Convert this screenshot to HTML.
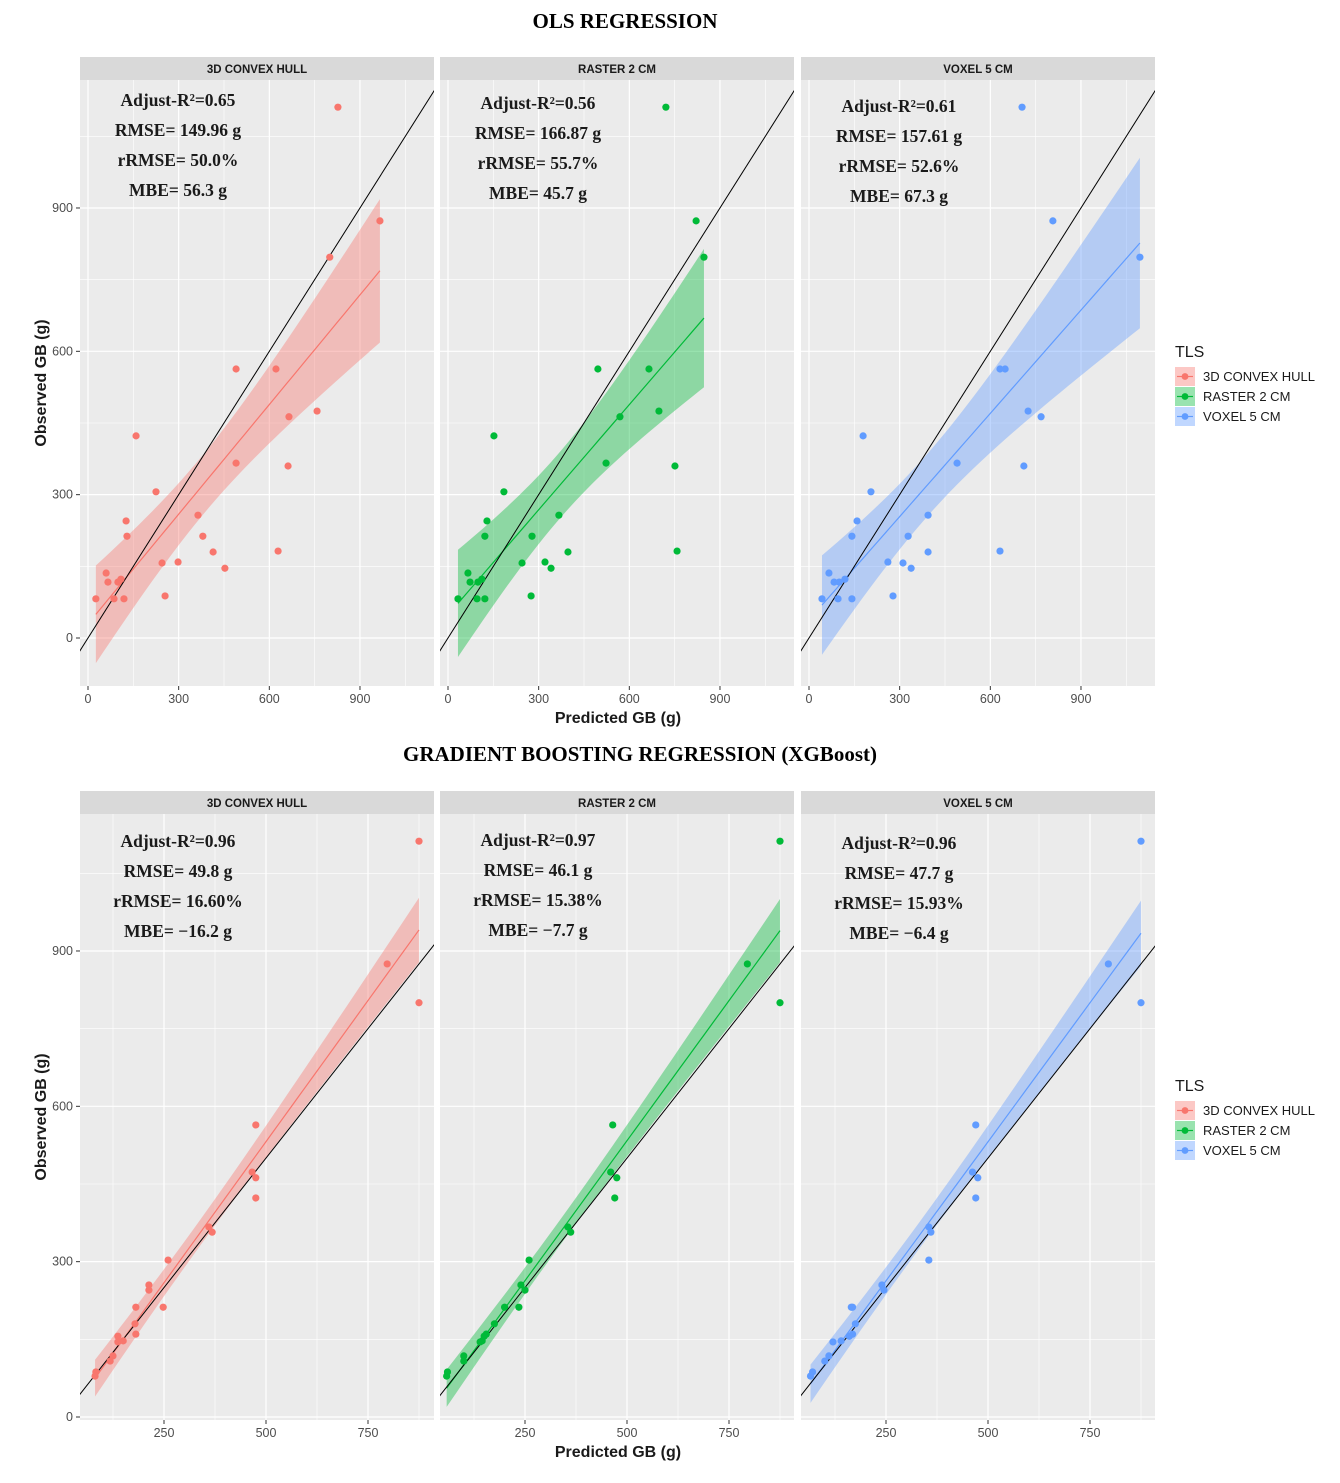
<!DOCTYPE html>
<html><head><meta charset="utf-8"><style>
body{margin:0;background:#fff;}
svg text{font-family:"Liberation Sans",sans-serif;}
.ser{font-family:"Liberation Serif",serif;font-weight:bold;}
</style></head><body>
<svg id="chart" width="1340" height="1478" xmlns="http://www.w3.org/2000/svg"></svg>
<script>
// ---- data ----
const obsTop = [1111,873,797,563,563,463,475,423,366,360,306,257,245,213,213,180,182,159,157,146,136,123,117,117,88,82,82,82];
const predTopHull = [827,966,800,490,622,665,758,159,490,662,225,364,126,380,129,414,629,298,245,453,60,109,99,66,255,26,86,119];
const predTopRaster = [721,821,847,496,665,569,698,152,523,751,185,367,129,278,122,397,758,321,245,341,66,112,99,73,275,33,96,122];
const predTopVoxel = [705,807,1095,632,649,768,725,179,490,711,205,394,159,328,142,394,632,261,311,338,66,119,83,100,278,43,96,142];
const obsBot = [1112,875,800,564,473,462,423,367,357,303,255,245,212,212,180,160,156,147,145,118,108,87,79];
const predBotHull = [875,797,875,475,466,475,475,360,368,260,213,213,181,248,179,181,137,150,137,125,118,83,81];
const predBotRaster = [875,795,875,465,460,475,470,355,362,260,240,250,200,235,175,155,150,145,140,100,100,60,58];
const predBotVoxel = [875,795,875,470,462,475,470,355,360,355,240,245,165,168,175,168,160,140,120,110,100,70,65];
const topTicksX=[0,300,600,900], topTicksY=[0,300,600,900];
const botTicksX=[250,500,750], botTicksY=[0,300,600,900];
const panelNames=["3D CONVEX HULL","RASTER 2 CM","VOXEL 5 CM"];
const colors=["#F8766D","#00BA38","#619CFF"];
const statsTop=[["Adjust-R²=0.65","RMSE= 149.96 g","rRMSE= 50.0%","MBE= 56.3 g"],["Adjust-R²=0.56","RMSE= 166.87 g","rRMSE= 55.7%","MBE= 45.7 g"],["Adjust-R²=0.61","RMSE= 157.61 g","rRMSE= 52.6%","MBE= 67.3 g"]];
const statsBot=[["Adjust-R²=0.96","RMSE= 49.8 g","rRMSE= 16.60%","MBE= −16.2 g"],["Adjust-R²=0.97","RMSE= 46.1 g","rRMSE= 15.38%","MBE= −7.7 g"],["Adjust-R²=0.96","RMSE= 47.7 g","rRMSE= 15.93%","MBE= −6.4 g"]];

const svg=document.getElementById('chart');
const NS="http://www.w3.org/2000/svg";
function mk(tag,attrs,parent){const e=document.createElementNS(NS,tag);for(const k in attrs)e.setAttribute(k,attrs[k]);(parent||svg).appendChild(e);return e;}

const panelX=[[80,434],[440,794],[801,1155]];

function drawSection(cfg){
  const {top,bottom,x0s,xs,ys,yZero,xt,yt,preds,obs,stats,textY,minorX,minorY}=cfg;
  for(let p=0;p<3;p++){
    const [L,R]=panelX[p];
    const g=mk('g',{});  
    const strip=mk('rect',{x:L,y:top-23,width:R-L,height:23,fill:'#d9d9d9'},g);
     
    const st=mk('text',{x:(L+R)/2,y:top-7,'text-anchor':'middle','font-size':11.5,'font-weight':'bold',fill:'#1a1a1a'},g); st.textContent=panelNames[p];
     
    mk('rect',{x:L,y:top,width:R-L,height:bottom-top,fill:'#ebebeb'},g);
    const X=v=>x0s[p]+v*xs, Y=v=>yZero-v*ys;
    const cid='clip'+cfg.id+p;
    const cp=mk('clipPath',{id:cid},g); mk('rect',{x:L,y:top,width:R-L,height:bottom-top},cp);
    const cg=mk('g',{'clip-path':'url(#'+cid+')'},g);
    minorX.forEach(v=>mk('line',{x1:X(v),x2:X(v),y1:top,y2:bottom,stroke:'#fff','stroke-width':0.6},cg));
    minorY.forEach(v=>mk('line',{x1:L,x2:R,y1:Y(v),y2:Y(v),stroke:'#fff','stroke-width':0.6},cg));
    xt.forEach(v=>mk('line',{x1:X(v),x2:X(v),y1:top,y2:bottom,stroke:'#fff','stroke-width':1.2},cg));
    yt.forEach(v=>mk('line',{x1:L,x2:R,y1:Y(v),y2:Y(v),stroke:'#fff','stroke-width':1.2},cg));
    const xsD=preds[p], n=xsD.length;
    const mx=xsD.reduce((a,b)=>a+b,0)/n, my=obs.reduce((a,b)=>a+b,0)/n;
    let sxx=0,sxy=0; for(let i=0;i<n;i++){sxx+=(xsD[i]-mx)**2;sxy+=(xsD[i]-mx)*(obs[i]-my);}
    const b=sxy/sxx,a=my-b*mx; let sse=0; for(let i=0;i<n;i++)sse+=(obs[i]-a-b*xsD[i])**2;
    const s=Math.sqrt(sse/(n-2)), t=2.06;
    const xmin=Math.min(...xsD),xmax=Math.max(...xsD);
    const up=[],lo=[],ln=[];
    for(let k=0;k<=40;k++){const xv=xmin+(xmax-xmin)*k/40;const f=a+b*xv;const se=s*Math.sqrt(1/n+(xv-mx)**2/sxx);
      up.push(X(xv)+','+Y(f+t*se));lo.unshift(X(xv)+','+Y(f-t*se));ln.push(X(xv)+','+Y(f));}
    const rib=mk('polygon',{points:up.concat(lo).join(' '),fill:colors[p],'fill-opacity':0.4},cg);
     
    const fl=mk('polyline',{points:ln.join(' '),fill:'none',stroke:colors[p],'stroke-width':1.2},cg);
     
    const idl=mk('line',{x1:X(-200),y1:Y(-200),x2:X(1400),y2:Y(1400),stroke:'#000','stroke-width':1},cg);
     
    for(let i=0;i<n;i++){const c=mk('circle',{cx:X(xsD[i]),cy:Y(obs[i]),r:3.6,fill:colors[p]},cg);
       }
    stats[p].forEach((s2,i)=>{const tx=mk('text',{x:L+98,y:textY[p]+i*30,'text-anchor':'middle','font-size':17.5,fill:'#1a1a1a',class:'ser'},g);tx.textContent=s2;
       });
    xt.forEach(v=>{mk('line',{x1:X(v),x2:X(v),y1:bottom,y2:bottom+4,stroke:'#333'},g);
      const tl=mk('text',{x:X(v),y:bottom+17,'text-anchor':'middle','font-size':12.5,fill:'#4d4d4d'},g);tl.textContent=v;
       });
    if(p===0) yt.forEach(v=>{mk('line',{x1:L-4,x2:L,y1:Y(v),y2:Y(v),stroke:'#333'},g);
      const tl=mk('text',{x:L-7,y:Y(v)+4,'text-anchor':'end','font-size':12.5,fill:'#4d4d4d'},g);tl.textContent=v;
       });
  }
  const yt2=mk('text',{x:0,y:0,transform:`translate(46,${(top+bottom)/2}) rotate(-90)`,'text-anchor':'middle','font-size':16,'font-weight':'bold',fill:'#1a1a1a'});yt2.textContent='Observed GB (g)';
   
  const xt2=mk('text',{x:618,y:bottom+37,'text-anchor':'middle','font-size':16,'font-weight':'bold',fill:'#1a1a1a'});xt2.textContent='Predicted GB (g)';
   
  const lg=mk('g',{});  
  const lt=mk('text',{x:1175,y:cfg.legY,'font-size':16,fill:'#1a1a1a'},lg);lt.textContent='TLS';
  panelNames.forEach((nm,i)=>{const yy=cfg.legY+10+i*20;
    const e=mk('g',{},lg);  
    mk('rect',{x:1175,y:yy,width:20,height:19,fill:colors[i],'fill-opacity':0.4},e);
    mk('line',{x1:1177,x2:1193,y1:yy+9.5,y2:yy+9.5,stroke:colors[i],'stroke-width':1.2},e);
    mk('circle',{cx:1185,cy:yy+9.5,r:3.4,fill:colors[i]},e);
    const tx=mk('text',{x:1203,y:yy+14,'font-size':13,fill:'#1a1a1a'},e);tx.textContent=nm;});
}
const t1=mk('text',{x:625,y:28,'text-anchor':'middle','font-size':21,fill:'#000',class:'ser'});t1.textContent='OLS REGRESSION';
 
const t2=mk('text',{x:640,y:761,'text-anchor':'middle','font-size':21,fill:'#000',class:'ser'});t2.textContent='GRADIENT BOOSTING REGRESSION (XGBoost)';
 

drawSection({id:'ols',top:80,bottom:686,x0s:[88,448,809],xs:0.3022,ys:0.4778,yZero:638,xt:topTicksX,yt:topTicksY,
  minorX:[150,450,750,1050],minorY:[150,450,750,1050],preds:[predTopHull,predTopRaster,predTopVoxel],obs:obsTop,stats:statsTop,textY:[106,109,112],legY:357});
drawSection({id:'xgb',top:814,bottom:1420,x0s:[62,423,784],xs:0.408,ys:0.5178,yZero:1417,xt:botTicksX,yt:botTicksY,
  minorX:[125,375,625,875],minorY:[150,450,750,1050],preds:[predBotHull,predBotRaster,predBotVoxel],obs:obsBot,stats:statsBot,textY:[847,846,849],legY:1091});
</script>
</body></html>
